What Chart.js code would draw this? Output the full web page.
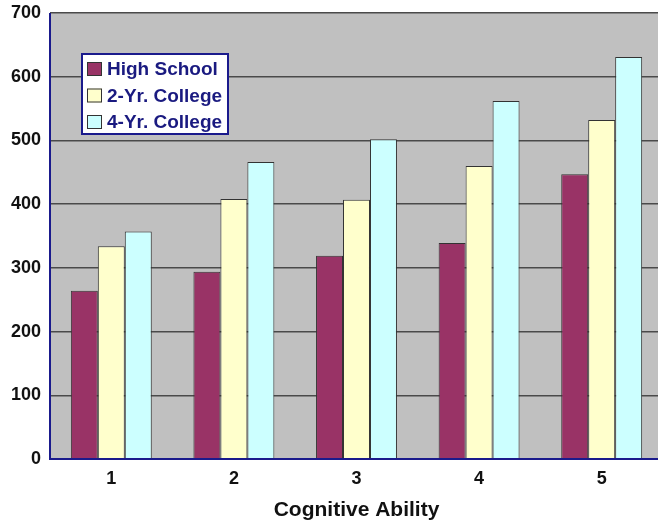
<!DOCTYPE html>
<html>
<head>
<meta charset="utf-8">
<script src="https://cdn.jsdelivr.net/npm/chart.js@4/dist/chart.umd.min.js"></script>
<style>
  html, body { margin: 0; padding: 0; background: #ffffff; overflow: hidden; }
  #wrap { width: 663px; height: 523px; position: relative; }
</style>
</head>
<body>
<div id="wrap"><canvas id="chart"></canvas></div>
<script>
// Earnings by cognitive ability level and schooling
const abilityLevels = ['1', '2', '3', '4', '5'];
const highSchool   = [264, 294, 319, 339, 447];
const twoYrCollege = [334, 408, 407, 460, 532];
const fourYrCollege = [357, 466, 502, 562, 631];
const seriesNames = ['High School', '2-Yr. College', '4-Yr. College'];
const yTicks = [0, 100, 200, 300, 400, 500, 600, 700];

const FONT = '"Liberation Sans", Arial, sans-serif';

// Grey plotting backdrop behind the bars
const plotBackground = {
  id: 'plotBackground',
  beforeDraw(chart) {
    const { ctx, chartArea: a } = chart;
    ctx.save();
    ctx.fillStyle = '#c0c0c0';
    ctx.fillRect(a.left, a.top, a.right - a.left, a.bottom - a.top);
    ctx.restore();
  }
};

// Navy axis lines on the left and bottom edges
const axisLines = {
  id: 'axisLines',
  afterDatasetsDraw(chart) {
    const { ctx, chartArea: a } = chart;
    ctx.save();
    ctx.strokeStyle = '#1a1a8c';
    ctx.lineWidth = 2;
    ctx.beginPath();
    ctx.moveTo(a.left, a.top);
    ctx.lineTo(a.left, a.bottom);
    ctx.lineTo(a.right, a.bottom);
    ctx.stroke();
    ctx.restore();
  }
};

// Boxed legend floating inside the plot
const boxLegend = {
  id: 'boxLegend',
  afterDraw(chart) {
    const { ctx } = chart;
    const x = 82, y = 54, w = 146, h = 80;
    ctx.save();
    ctx.fillStyle = '#ffffff';
    ctx.fillRect(x, y, w, h);
    ctx.strokeStyle = '#1a1a8c';
    ctx.lineWidth = 2;
    ctx.strokeRect(x, y, w, h);
    ctx.font = 'bold 19px ' + FONT;
    ctx.textBaseline = 'middle';
    chart.data.datasets.forEach((ds, i) => {
      const cy = y + 15 + i * 26.5;
      ctx.fillStyle = ds.backgroundColor;
      ctx.fillRect(x + 5, cy - 7, 15, 14);
      ctx.strokeStyle = '#333333';
      ctx.lineWidth = 1;
      ctx.strokeRect(x + 5.5, cy - 6.5, 14, 13);
      ctx.fillStyle = '#1a1a80';
      ctx.fillText(ds.label, x + 25, cy + 1);
    });
    ctx.restore();
  }
};

new Chart(document.getElementById('chart'), {
  type: 'bar',
  data: {
    labels: abilityLevels,
    datasets: [
      { label: seriesNames[0], data: highSchool,    backgroundColor: '#993366' },
      { label: seriesNames[1], data: twoYrCollege,  backgroundColor: '#ffffcc' },
      { label: seriesNames[2], data: fourYrCollege, backgroundColor: '#ccffff' }
    ].map(d => Object.assign(d, { borderColor: '#333333', borderWidth: 1, borderSkipped: 'bottom' }))
  },
  options: {
    responsive: true,
    maintainAspectRatio: false,
    animation: false,
    layout: { padding: { top: 13, right: 0, left: 0, bottom: 0 } },
    plugins: { legend: { display: false }, tooltip: { enabled: false } },
    datasets: { bar: { barPercentage: 1.0, categoryPercentage: 0.66 } },
    scales: {
      x: {
        grid: { display: false, drawTicks: false },
        border: { display: false },
        ticks: { color: '#111', font: { family: FONT, size: 18, weight: 'bold' }, padding: 9 },
        title: {
          display: true, text: 'Cognitive Ability', color: '#111',
          font: { family: FONT, size: 21, weight: 'bold' }, padding: { top: 0, bottom: 0 }
        },
        afterFit(scale) { scale.height = 64; scale.paddingLeft = 0; scale.paddingRight = 0; }
      },
      y: {
        min: 0, max: 700,
        afterBuildTicks(scale) { scale.ticks = yTicks.map(v => ({ value: v })); },
        grid: { color: '#4a4a4a', lineWidth: 1.5, drawTicks: false },
        border: { display: false },
        ticks: { color: '#111', font: { family: FONT, size: 18, weight: 'bold' }, padding: 9 },
        afterFit(scale) { scale.width = 50; scale.paddingTop = 0; scale.paddingBottom = 0; }
      }
    }
  },
  plugins: [plotBackground, axisLines, boxLegend]
});
</script>
</body>
</html>
